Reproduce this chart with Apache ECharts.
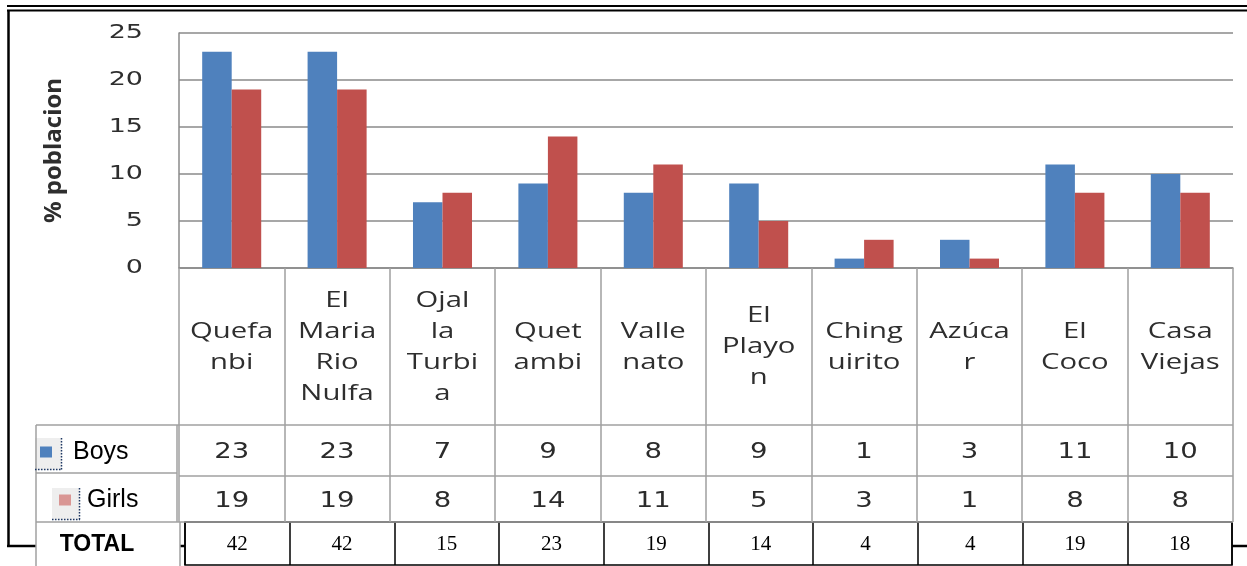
<!DOCTYPE html>
<html><head><meta charset="utf-8">
<script src="https://cdn.jsdelivr.net/npm/echarts@6/dist/echarts.min.js"></script>
<style>html,body{margin:0;padding:0;background:#fff}#c{width:1247px;height:566px}</style>
</head><body><div id="c"></div>
<script>
// ---- data ----
const categories = ['Quefa\nnbi', 'El\nMaria\nRio\nNulfa', 'Ojal\nla\nTurbi\na', 'Quet\nambi', 'Valle\nnato', 'El\nPlayo\nn', 'Ching\nuirito', 'Azúca\nr', 'El\nCoco', 'Casa\nViejas'];
const boys = [23, 23, 7, 9, 8, 9, 1, 3, 11, 10];
const girls = [19, 19, 8, 14, 11, 5, 3, 1, 8, 8];
const totals = [42, 42, 15, 23, 19, 14, 4, 4, 19, 18];
const yTicks = [0, 5, 10, 15, 20, 25];
const seriesNames = ['Boys', 'Girls'];
const totalLabel = 'TOTAL';
const axisName = '% poblacion';

const chart = echarts.init(document.getElementById('c'), null, {renderer: 'canvas'});
const option = {
  animation: false,
  backgroundColor: '#fff',
  grid: [
    {left: 179, right: 14, top: 33, bottom: 298},
    {left: 185, right: 15, top: 522, bottom: 1, show: true, borderColor: '#000', borderWidth: 1.5, backgroundColor: 'transparent'}
  ],
  xAxis: [
    {type: 'category', gridIndex: 0, data: categories,
     axisLine: {lineStyle: {color: '#8a8a8a', width: 1.5}},
     axisTick: {show: true, length: 254, lineStyle: {color: '#a0a0a0', width: 1.5}},
     axisLabel: {show: false}},
    {type: 'category', gridIndex: 1, data: totals.map(String),
     axisLine: {show: false},
     axisTick: {show: true, inside: true, length: 43, lineStyle: {color: '#000', width: 1.5}},
     axisLabel: {inside: true, margin: 21, verticalAlign: 'middle', fontFamily: 'Liberation Serif', fontSize: 21, color: '#000'}}
  ],
  yAxis: [
    {type: 'value', gridIndex: 0, min: 0, max: 25, interval: 5,
     axisLine: {show: true, lineStyle: {color: '#8a8a8a', width: 1.5}},
     axisTick: {show: false}, axisLabel: {show: false},
     splitLine: {lineStyle: {color: '#8a8a8a', width: 1.5}},
     name: axisName, nameLocation: 'middle', nameRotate: 90, nameGap: 113,
     nameTextStyle: {fontFamily: 'Open Sans', fontWeight: 'bold', fontSize: 24, color: '#2e2e2e'}},
    {type: 'value', gridIndex: 1, show: false}
  ],
  legend: [
    {data: [{name: seriesNames[0], itemStyle: {color: '#4F81BD'}}], left: 40, top: 438, padding: 0,
     icon: 'rect', itemWidth: 12, itemHeight: 11, selectedMode: false,
     textStyle: {fontFamily: 'Liberation Sans', fontSize: 25, lineHeight: 28, color: '#000', padding: [0, 0, 0, 16]}},
    {data: [{name: seriesNames[1], itemStyle: {color: '#D99694'}}], left: 59, top: 486, padding: 0,
     icon: 'rect', itemWidth: 12, itemHeight: 11, selectedMode: false,
     textStyle: {fontFamily: 'Liberation Sans', fontSize: 25, lineHeight: 28, color: '#000', padding: [0, 0, 0, 11]}}
  ],
  series: [
    {name: seriesNames[0], type: 'bar', xAxisIndex: 0, yAxisIndex: 0, data: boys,
     itemStyle: {color: '#4F81BD'}, barGap: '0%', barCategoryGap: '44%'},
    {name: seriesNames[1], type: 'bar', xAxisIndex: 0, yAxisIndex: 0, data: girls,
     itemStyle: {color: '#C0504D'}, barGap: '0%', barCategoryGap: '44%'}
  ]
};
chart.setOption(option);

// ---- table / frame drawn with positions from the library's scales ----
const els = [];
const line = (x1, y1, x2, y2, color, w, dash) => els.push({type: 'line', z: 1, silent: true,
  shape: {x1, y1, x2, y2}, style: {stroke: color, lineWidth: w, lineDash: dash || null}});

// outer frame
line(7, 6, 1247, 6, '#000', 2.2);
line(7, 10.5, 1247, 10.5, '#000', 2.2);
line(8.5, 10, 8.5, 547, '#000', 2.5);
line(7, 546, 36, 546, '#000', 2.5);
line(180, 546, 185, 546, '#000', 2.5);
line(1232, 546, 1247, 546, '#000', 2.5);

// table grey rules
const G = '#a0a0a0';
line(36, 425, 1233, 425, G, 1.5);
line(36, 473, 177, 473, G, 1.5);
line(179, 476, 1233, 476, G, 1.5);
line(36, 522, 1233, 522, G, 1.5);
line(36, 425, 36, 566, G, 1.5);
line(177, 425, 177, 522, G, 1.5);
line(180, 522, 180, 566, G, 1.5);

// legend icon boxes
els.push({type: 'rect', z: 0, shape: {x: 35, y: 438, width: 27, height: 32}, style: {fill: '#eeeeee'}});
els.push({type: 'rect', z: 0, shape: {x: 52, y: 488, width: 28, height: 32}, style: {fill: '#eeeeee'}});
line(61.5, 438, 61.5, 470, '#1f3864', 1.5, [1.5, 1.5]);
line(35, 469.5, 62, 469.5, '#1f3864', 1.5, [1.5, 1.5]);
line(79.5, 488, 79.5, 520, '#1f3864', 1.5, [1.5, 1.5]);
line(52, 519.5, 80, 519.5, '#1f3864', 1.5, [1.5, 1.5]);

// TOTAL label
els.push({type: 'text', z: 3, x: 97, y: 545, style: {text: totalLabel, font: 'bold 23px "Liberation Sans"', fill: '#000', align: 'center', verticalAlign: 'middle'}});

// y tick labels
yTicks.forEach(v => {
  const y = chart.convertToPixel({yAxisIndex: 0}, v);
  els.push({type: 'text', z: 3, x: 143, y: y, scaleX: 1.35,
    style: {text: String(v), font: '20px "DejaVu Sans"', fill: '#2e2e2e', align: 'right', verticalAlign: 'middle'}});
});

// category labels and value rows
categories.forEach((c, i) => {
  const x = chart.convertToPixel({xAxisIndex: 0}, i);
  els.push({type: 'text', z: 3, x: x, y: 347, scaleX: 1.33,
    style: {text: c, font: '22px "Open Sans"', lineHeight: 31, fill: '#2e2e2e', align: 'center', verticalAlign: 'middle'}});
  els.push({type: 'text', z: 3, x: x, y: 452, scaleX: 1.25,
    style: {text: String(boys[i]), font: '22px "DejaVu Sans"', fill: '#2b2b2b', align: 'center', verticalAlign: 'middle'}});
  els.push({type: 'text', z: 3, x: x, y: 501, scaleX: 1.25,
    style: {text: String(girls[i]), font: '22px "DejaVu Sans"', fill: '#2b2b2b', align: 'center', verticalAlign: 'middle'}});
});

chart.setOption({graphic: {elements: els}});
</script>
</body></html>
